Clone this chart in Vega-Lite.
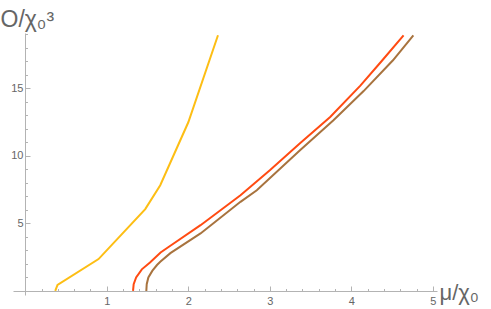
{
  "$schema": "https://vega.github.io/schema/vega-lite/v6.json",
  "width": 424,
  "height": 262,
  "autosize": {"type": "none"},
  "padding": {"left": 13, "top": 33, "right": 54, "bottom": 14},
  "config": {"view": {"stroke": null}, "font": "Liberation Sans"},
  "data": {"values": [
    {"s": "a", "mu": 0.368, "o": 0},
    {"s": "a", "mu": 0.396, "o": 0.44},
    {"s": "a", "mu": 0.899, "o": 2.36},
    {"s": "a", "mu": 1.472, "o": 6.06},
    {"s": "a", "mu": 1.656, "o": 7.83},
    {"s": "a", "mu": 2.0, "o": 12.49},
    {"s": "a", "mu": 2.364, "o": 18.93},
    {"s": "b", "mu": 1.322, "o": 0},
    {"s": "b", "mu": 1.33, "o": 0.5},
    {"s": "b", "mu": 1.36, "o": 1.0},
    {"s": "b", "mu": 1.43, "o": 1.6},
    {"s": "b", "mu": 1.53, "o": 2.1},
    {"s": "b", "mu": 1.66, "o": 2.85},
    {"s": "b", "mu": 1.78, "o": 3.35},
    {"s": "b", "mu": 2.15, "o": 4.87},
    {"s": "b", "mu": 2.64, "o": 7.09},
    {"s": "b", "mu": 3.0, "o": 8.94},
    {"s": "b", "mu": 3.37, "o": 10.94},
    {"s": "b", "mu": 3.74, "o": 12.88},
    {"s": "b", "mu": 4.11, "o": 15.2},
    {"s": "b", "mu": 4.38, "o": 17.08},
    {"s": "b", "mu": 4.64, "o": 18.93},
    {"s": "c", "mu": 1.485, "o": 0},
    {"s": "c", "mu": 1.49, "o": 0.5},
    {"s": "c", "mu": 1.51, "o": 1.0},
    {"s": "c", "mu": 1.56, "o": 1.5},
    {"s": "c", "mu": 1.616, "o": 1.92},
    {"s": "c", "mu": 1.656, "o": 2.16},
    {"s": "c", "mu": 1.78, "o": 2.8},
    {"s": "c", "mu": 2.15, "o": 4.26},
    {"s": "c", "mu": 2.64, "o": 6.6},
    {"s": "c", "mu": 2.84, "o": 7.46},
    {"s": "c", "mu": 3.37, "o": 10.42},
    {"s": "c", "mu": 3.78, "o": 12.64},
    {"s": "c", "mu": 4.15, "o": 14.8},
    {"s": "c", "mu": 4.51, "o": 17.08},
    {"s": "c", "mu": 4.76, "o": 18.93}
  ]},
  "mark": {"type": "line", "strokeWidth": 2, "clip": true},
  "encoding": {
    "x": {
      "field": "mu", "type": "quantitative",
      "scale": {"domain": [-0.15, 5.05], "nice": false, "zero": false},
      "axis": {
        "offset": -4,
        "values": [0.2,0.4,0.6,0.8,1,1.2,1.4,1.6,1.8,2,2.2,2.4,2.6,2.8,3,3.2,3.4,3.6,3.8,4,4.2,4.4,4.6,4.8,5],
        "labelExpr": "datum.value % 1 === 0 ? format(datum.value, 'd') : ''",
        "labelOverlap": false,
        "labelBound": false,
        "labelFlush": false,
        "labelFontSize": 11,
        "labelColor": "#666666",
        "labelPadding": 9,
        "grid": false,
        "domainColor": "#b3b3b3",
        "tickColor": "#b3b3b3",
        "tickSize": {"condition": {"test": "datum.value % 1 === 0", "value": -5}, "value": -2.5},
        "title": "μ/χ₀",
        "titleFontSize": 22,
        "titleFontWeight": "normal",
        "titleColor": "#666666",
        "titleAnchor": "end",
        "titleAlign": "left",
        "titleBaseline": "alphabetic",
        "titleX": 426,
        "titleY": 8
      }
    },
    "y": {
      "field": "o", "type": "quantitative",
      "scale": {"domain": [-0.3, 19.1], "nice": false, "zero": false},
      "axis": {
        "offset": -12,
        "values": [1,2,3,4,5,6,7,8,9,10,11,12,13,14,15,16,17,18,19],
        "labelExpr": "datum.value % 5 === 0 ? format(datum.value, 'd') : ''",
        "labelOverlap": false,
        "labelBound": false,
        "labelFlush": false,
        "labelFontSize": 11,
        "labelColor": "#666666",
        "labelPadding": 7,
        "grid": false,
        "domainColor": "#b3b3b3",
        "tickColor": "#b3b3b3",
        "tickSize": {"condition": {"test": "datum.value % 5 === 0", "value": -5}, "value": -2.5},
        "title": "O/χ₀³",
        "titleFontSize": 23,
        "titleFontWeight": "normal",
        "titleColor": "#666666",
        "titleAngle": 0,
        "titleAlign": "left",
        "titleBaseline": "alphabetic",
        "titleAnchor": "start",
        "titleX": -25,
        "titleY": -7
      }
    },
    "color": {
      "field": "s", "type": "nominal", "legend": null,
      "scale": {"domain": ["a", "b", "c"], "range": ["#fdbe14", "#ff4b12", "#a8733e"]}
    }
  }
}
